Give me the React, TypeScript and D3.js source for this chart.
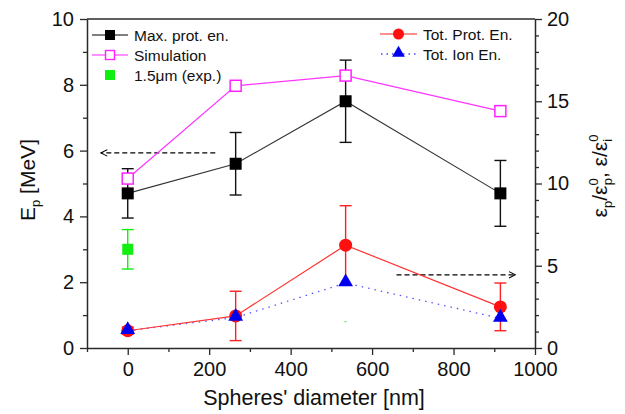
import React, { useEffect, useRef } from "react";
import * as d3 from "d3";

// sphere diameters [nm]
const diam = [0, 265, 535, 915];
// left axis: E_p [MeV]
const maxProt = [4.7, 5.6, 7.5, 4.7];
const maxProtErr = [0.75, 0.95, 1.25, 1.0];
const simulation = [5.15, 7.97, 8.28, 7.2];
const expDiam = [0];
const expVal = [3.0];
const expErr = [0.6];
const expDotDiam = [535];
const expDotVal = [0.8];
// right axis: normalised energies
const totProt = [1.05, 1.95, 6.25, 2.5];
const totProtErr = [0.22, 1.5, 2.4, 1.45];
const totIon = [1.05, 1.85, 3.95, 1.8];

const leftTicks = [0, 2, 4, 6, 8, 10];
const rightTicks = [0, 5, 10, 15, 20];
const xTicks = [0, 200, 400, 600, 800, 1000];

const W = 625, H = 414;
const FONT = "'Liberation Sans', Arial, sans-serif";
const AX = "#2a2a2a";

export default function App() {
  const ref = useRef<SVGSVGElement>(null);

  useEffect(() => {
    const svg = d3.select(ref.current);
    svg.selectAll("*").remove();

    const x0 = 87, x1 = 535, yTop = 19, yBot = 348;
    const x = d3.scaleLinear().domain([-100, 1000]).range([x0, x1]);
    const yL = d3.scaleLinear().domain([0, 10]).range([yBot, yTop]);
    const yR = d3.scaleLinear().domain([0, 20]).range([yBot, yTop]);

    const defs = svg.append("defs");
    defs.append("marker")
      .attr("id", "arr").attr("viewBox", "0 0 10 10")
      .attr("refX", 9).attr("refY", 5)
      .attr("markerWidth", 8).attr("markerHeight", 8)
      .attr("orient", "auto-start-reverse")
      .attr("markerUnits", "userSpaceOnUse")
      .append("path").attr("d", "M1,1 L9,5 L1,9")
      .attr("fill", "none").attr("stroke", "#000").attr("stroke-width", 1.3);

    // frame (top line)
    svg.append("line").attr("x1", x0).attr("x2", x1).attr("y1", yTop).attr("y2", yTop)
      .attr("stroke", AX).attr("stroke-width", 1.5);

    const styleAxis = (g: any) => {
      g.select(".domain").attr("stroke", AX).attr("stroke-width", 1.5);
      g.selectAll(".tick line").attr("stroke", AX).attr("stroke-width", 1.3);
      g.selectAll(".tick text").attr("fill", "#111").style("font-family", FONT).style("font-size", "20px");
    };

    // minor ticks
    const minorL = d3.range(1, 10, 2);
    const minorR = d3.range(1, 20).filter((v) => v % 5 !== 0);
    const minorX = d3.range(-100, 1000, 200);

    svg.append("g").attr("transform", `translate(${x0},0)`)
      .call(d3.axisLeft(yL).tickValues(minorL).tickSize(4).tickFormat(() => "").tickSizeOuter(0))
      .call((g: any) => { g.select(".domain").remove(); g.selectAll("line").attr("stroke", AX).attr("stroke-width", 1.3); });
    svg.append("g").attr("transform", `translate(${x1},0)`)
      .call(d3.axisRight(yR).tickValues(minorR).tickSize(4).tickFormat(() => "").tickSizeOuter(0))
      .call((g: any) => { g.select(".domain").remove(); g.selectAll("line").attr("stroke", AX).attr("stroke-width", 1.3); });
    svg.append("g").attr("transform", `translate(0,${yBot})`)
      .call(d3.axisBottom(x).tickValues(minorX).tickSize(4).tickFormat(() => "").tickSizeOuter(0))
      .call((g: any) => { g.select(".domain").remove(); g.selectAll("line").attr("stroke", AX).attr("stroke-width", 1.3); });

    svg.append("g").attr("transform", `translate(${x0},0)`)
      .call(d3.axisLeft(yL).tickValues(leftTicks).tickSize(7).tickPadding(6).tickSizeOuter(0).tickFormat(d3.format("d")))
      .call(styleAxis);
    svg.append("g").attr("transform", `translate(${x1},0)`)
      .call(d3.axisRight(yR).tickValues(rightTicks).tickSize(7).tickPadding(5).tickSizeOuter(0).tickFormat(d3.format("d")))
      .call(styleAxis);
    svg.append("g").attr("transform", `translate(0,${yBot})`)
      .call(d3.axisBottom(x).tickValues(xTicks).tickSize(7).tickPadding(7).tickSizeOuter(0).tickFormat(d3.format("d")))
      .call(styleAxis);

    // axis titles
    svg.append("text").attr("x", 314).attr("y", 405).attr("text-anchor", "middle")
      .style("font-family", FONT).style("font-size", "21.5px").attr("fill", "#111")
      .text("Spheres' diameter [nm]");

    const lt = svg.append("text").attr("transform", "translate(35,180) rotate(-90)")
      .attr("text-anchor", "middle").style("font-family", FONT).style("font-size", "21px").attr("fill", "#111");
    lt.append("tspan").text("E");
    lt.append("tspan").attr("dy", 5).style("font-size", "13px").text("p");
    lt.append("tspan").attr("dy", -5).text(" [MeV]");

    const rt = svg.append("text").attr("transform", "translate(607,176) rotate(-90)")
      .attr("text-anchor", "middle").style("font-family", FONT).style("font-size", "21px").attr("fill", "#111");
    rt.append("tspan").text("ε");
    rt.append("tspan").attr("dy", 5).style("font-size", "13px").text("p");
    rt.append("tspan").attr("dy", -5).text("/ε");
    rt.append("tspan").attr("dy", -9).style("font-size", "13px").text("0");
    rt.append("tspan").attr("dy", 14).attr("dx", -7).style("font-size", "13px").text("p");
    rt.append("tspan").attr("dy", -5).text(", ε/ε");
    rt.append("tspan").attr("dy", -9).style("font-size", "13px").text("0");
    rt.append("tspan").attr("dy", 14).attr("dx", -7).style("font-size", "13px").text("i");

    // arrows
    svg.append("line")
      .attr("x1", x(215)).attr("x2", x(-66)).attr("y1", yL(5.93)).attr("y2", yL(5.93))
      .attr("stroke", "#000").attr("stroke-width", 1.3).attr("stroke-dasharray", "5,3")
      .attr("marker-end", "url(#arr)");
    svg.append("line")
      .attr("x1", x(660)).attr("x2", x(952)).attr("y1", yR(4.45)).attr("y2", yR(4.45))
      .attr("stroke", "#000").attr("stroke-width", 1.3).attr("stroke-dasharray", "5,3")
      .attr("marker-end", "url(#arr)");

    const plot = svg.append("g");

    const errBars = (xs: number[], vs: number[], es: number[], y: any, color: string) => {
      xs.forEach((d, i) => {
        const cx = x(d);
        const g = plot.append("g").attr("stroke", color).attr("stroke-width", 1.4);
        g.append("line").attr("x1", cx).attr("x2", cx).attr("y1", y(vs[i] - es[i])).attr("y2", y(vs[i] + es[i]));
        [vs[i] - es[i], vs[i] + es[i]].forEach((v) =>
          g.append("line").attr("x1", cx - 6).attr("x2", cx + 6).attr("y1", y(v)).attr("y2", y(v)));
      });
    };

    const lineOf = (y: any) => d3.line<number>().x((_, i) => x(diam[i])).y((v) => y(v));

    // left series
    plot.append("path").attr("d", lineOf(yL)(simulation)!).attr("fill", "none").attr("stroke", "#ff33ff").attr("stroke-width", 1.2);
    plot.append("path").attr("d", lineOf(yL)(maxProt)!).attr("fill", "none").attr("stroke", "#333").attr("stroke-width", 1.1);
    errBars(diam, maxProt, maxProtErr, yL, "#111");
    errBars(expDiam, expVal, expErr, yL, "#11ee11");

    // right series
    plot.append("path").attr("d", lineOf(yR)(totIon)!).attr("fill", "none").attr("stroke", "#5555ff")
      .attr("stroke-width", 1.3).attr("stroke-dasharray", "1.5,5");
    plot.append("path").attr("d", lineOf(yR)(totProt)!).attr("fill", "none").attr("stroke", "#ff3333").attr("stroke-width", 1.2);
    errBars(diam, totProt, totProtErr, yR, "#ff2020");

    // markers
    diam.forEach((d, i) => {
      plot.append("rect").attr("x", x(d) - 6).attr("y", yL(maxProt[i]) - 6).attr("width", 12).attr("height", 12).attr("fill", "#000");
      plot.append("rect").attr("x", x(d) - 5.5).attr("y", yL(simulation[i]) - 5.5).attr("width", 11).attr("height", 11)
        .attr("fill", "#fff").attr("stroke", "#ff22ff").attr("stroke-width", 1.5);
      plot.append("circle").attr("cx", x(d)).attr("cy", yR(totProt[i])).attr("r", 6.5).attr("fill", "#ff1010");
    });
    const tri = d3.symbol().type(d3.symbolTriangle).size(95);
    diam.forEach((d, i) => {
      plot.append("path").attr("d", tri()!).attr("transform", `translate(${x(d)},${yR(totIon[i]) - 1})`).attr("fill", "#0000ee");
    });
    expDiam.forEach((d, i) => {
      plot.append("rect").attr("x", x(d) - 5.5).attr("y", yL(expVal[i]) - 5.5).attr("width", 11).attr("height", 11).attr("fill", "#11ee11");
    });
    expDotDiam.forEach((d, i) => {
      plot.append("rect").attr("x", x(d) - 1).attr("y", yL(expDotVal[i]) - 0.5).attr("width", 2).attr("height", 1).attr("fill", "#44dd44");
    });

    // legends
    const leg = svg.append("g").style("font-family", FONT).style("font-size", "15.5px");
    const rowsL = [35, 55, 75];
    leg.append("line").attr("x1", 92).attr("x2", 128).attr("y1", rowsL[0]).attr("y2", rowsL[0]).attr("stroke", "#000").attr("stroke-width", 1.2);
    leg.append("rect").attr("x", 105).attr("y", rowsL[0] - 5).attr("width", 10).attr("height", 10).attr("fill", "#000");
    leg.append("line").attr("x1", 92).attr("x2", 128).attr("y1", rowsL[1]).attr("y2", rowsL[1]).attr("stroke", "#ff22ff").attr("stroke-width", 1.2);
    leg.append("rect").attr("x", 105.5).attr("y", rowsL[1] - 4.5).attr("width", 9).attr("height", 9).attr("fill", "#fff").attr("stroke", "#ff22ff").attr("stroke-width", 1.4);
    leg.append("rect").attr("x", 105).attr("y", rowsL[2] - 5).attr("width", 10).attr("height", 10).attr("fill", "#11ee11");
    ["Max. prot. en.", "Simulation", "1.5μm (exp.)"].forEach((t, i) =>
      leg.append("text").attr("x", 134).attr("y", rowsL[i] + 5.5).attr("fill", "#111").text(t));

    const rowsR = [34, 54];
    leg.append("line").attr("x1", 380).attr("x2", 417).attr("y1", rowsR[0]).attr("y2", rowsR[0]).attr("stroke", "#ff2020").attr("stroke-width", 1.2);
    leg.append("circle").attr("cx", 398.5).attr("cy", rowsR[0]).attr("r", 5.5).attr("fill", "#ff1010");
    leg.append("line").attr("x1", 381).attr("x2", 417).attr("y1", rowsR[1]).attr("y2", rowsR[1]).attr("stroke", "#4444ff")
      .attr("stroke-width", 1.3).attr("stroke-dasharray", "1.5,4");
    leg.append("path").attr("d", d3.symbol().type(d3.symbolTriangle).size(70)()!).attr("transform", `translate(398.5,${rowsR[1] - 1})`).attr("fill", "#0000ee");
    ["Tot. Prot. En.", "Tot. Ion En."].forEach((t, i) =>
      leg.append("text").attr("x", 423).attr("y", rowsR[i] + 5.5).attr("fill", "#111").text(t));
  }, []);

  return (
    <div style={{ position: "absolute", left: 0, top: 0 }}>
      <svg ref={ref} width={W} height={H} style={{ display: "block", background: "#fff" }} />
    </div>
  );
}
